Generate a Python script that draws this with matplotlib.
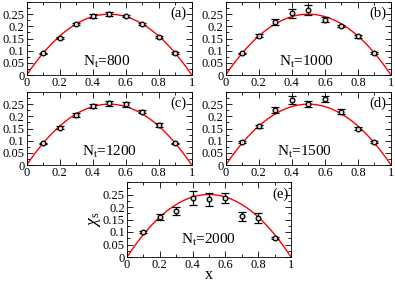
import matplotlib
matplotlib.use("Agg")
import matplotlib.pyplot as plt
from matplotlib.ticker import MultipleLocator, FuncFormatter
import numpy as np

plt.rcParams['font.family'] = ['Liberation Serif', 'DejaVu Serif']
plt.rcParams['mathtext.fontset'] = 'custom'
plt.rcParams['mathtext.rm'] = 'Liberation Serif'
plt.rcParams['mathtext.it'] = 'Liberation Serif:italic'

x_pts = [0.1, 0.2, 0.3, 0.4, 0.5, 0.6, 0.7, 0.8, 0.9]

chi_800 = [0.089, 0.153, 0.210, 0.243, 0.252, 0.243, 0.210, 0.157, 0.090]
err_800 = [0.003, 0.004, 0.005, 0.009, 0.008, 0.005, 0.005, 0.004, 0.003]

chi_1000 = [0.089, 0.161, 0.218, 0.253, 0.267, 0.228, 0.202, 0.159, 0.091]
err_1000 = [0.003, 0.006, 0.013, 0.020, 0.022, 0.010, 0.004, 0.005, 0.003]

chi_1200 = [0.089, 0.154, 0.205, 0.243, 0.253, 0.249, 0.219, 0.164, 0.089]
err_1200 = [0.003, 0.005, 0.008, 0.009, 0.010, 0.010, 0.007, 0.008, 0.003]

chi_1500 = [0.094, 0.159, 0.227, 0.268, 0.250, 0.272, 0.219, 0.150, 0.094]
err_1500 = [0.004, 0.006, 0.013, 0.016, 0.013, 0.013, 0.010, 0.005, 0.003]

chi_2000 = [0.099, 0.160, 0.184, 0.238, 0.231, 0.237, 0.163, 0.158, 0.078]
err_2000 = [0.004, 0.013, 0.016, 0.028, 0.027, 0.019, 0.017, 0.020, 0.004]

panel_labels = ['(a)', '(b)', '(c)', '(d)', '(e)']
n_labels = ['800', '1000', '1200', '1500', '2000']
series = [(chi_800, err_800), (chi_1000, err_1000), (chi_1200, err_1200),
          (chi_1500, err_1500), (chi_2000, err_2000)]

# theoretical curve chi = x(1-x)
x_curve = np.linspace(0, 1, 200)
y_curve = x_curve * (1 - x_curve)

W, H = 395, 283
fig = plt.figure(figsize=(W / 100, H / 100), dpi=100)

# axes rectangles in pixels: (left, top, right, bottom)
rects = [(26.7, 2, 191.7, 75), (225.7, 2, 391, 75),
         (26.7, 92, 191.7, 165), (225.7, 92, 391, 165),
         (127, 182, 291, 257)]

fmt = FuncFormatter(lambda v, p: ('%g' % round(v, 3)))

tick_fs = 9
for i, (r, (chi, err)) in enumerate(zip(rects, series)):
    l, t, rr, b = r
    ax = fig.add_axes([l / W, 1 - b / H, (rr - l) / W, (b - t) / H])
    ax.plot(x_curve, y_curve, color='red', lw=1.0, zorder=1)
    ax.errorbar(x_pts, chi, yerr=err, fmt='o', ms=3.4, mfc='#d8d8d8', mec='black',
                mew=0.9, ecolor='black', elinewidth=0.9, capsize=3.2, capthick=0.9,
                color='black', zorder=3)
    ax.set_xlim(0, 1)
    ax.set_ylim(0, 0.3)
    ax.set_xticks([0, 0.2, 0.4, 0.6, 0.8, 1.0])
    ax.set_yticks([0, 0.05, 0.1, 0.15, 0.2, 0.25])
    ax.xaxis.set_minor_locator(MultipleLocator(0.1))
    ax.yaxis.set_minor_locator(MultipleLocator(0.025))
    ax.xaxis.set_major_formatter(fmt)
    ax.yaxis.set_major_formatter(fmt)
    ax.tick_params(which='both', direction='in', top=True, right=True,
                   labelsize=tick_fs, width=0.6, pad=1.5)
    ax.tick_params(which='major', length=4)
    ax.tick_params(which='minor', length=2)
    for s in ax.spines.values():
        s.set_linewidth(0.6)
    ax.text(0.92 if i < 4 else 0.935, 0.84, panel_labels[i], transform=ax.transAxes,
            ha='center', va='center', fontsize=10.5)
    ny = 0.18 if i < 4 else 0.225
    nx = [0.485, 0.49, 0.5, 0.475, 0.5][i]
    ax.text(nx, ny, r'N$_\mathrm{t}$=' + n_labels[i], transform=ax.transAxes,
            ha='center', va='center', fontsize=11)
    if i == 4:
        ax.set_xlabel('x', fontsize=11.5, labelpad=-3)
        ax.set_ylabel(r'$\chi_\mathrm{s}$', fontsize=12.5, labelpad=0)

fig.savefig('out.png', dpi=100)
